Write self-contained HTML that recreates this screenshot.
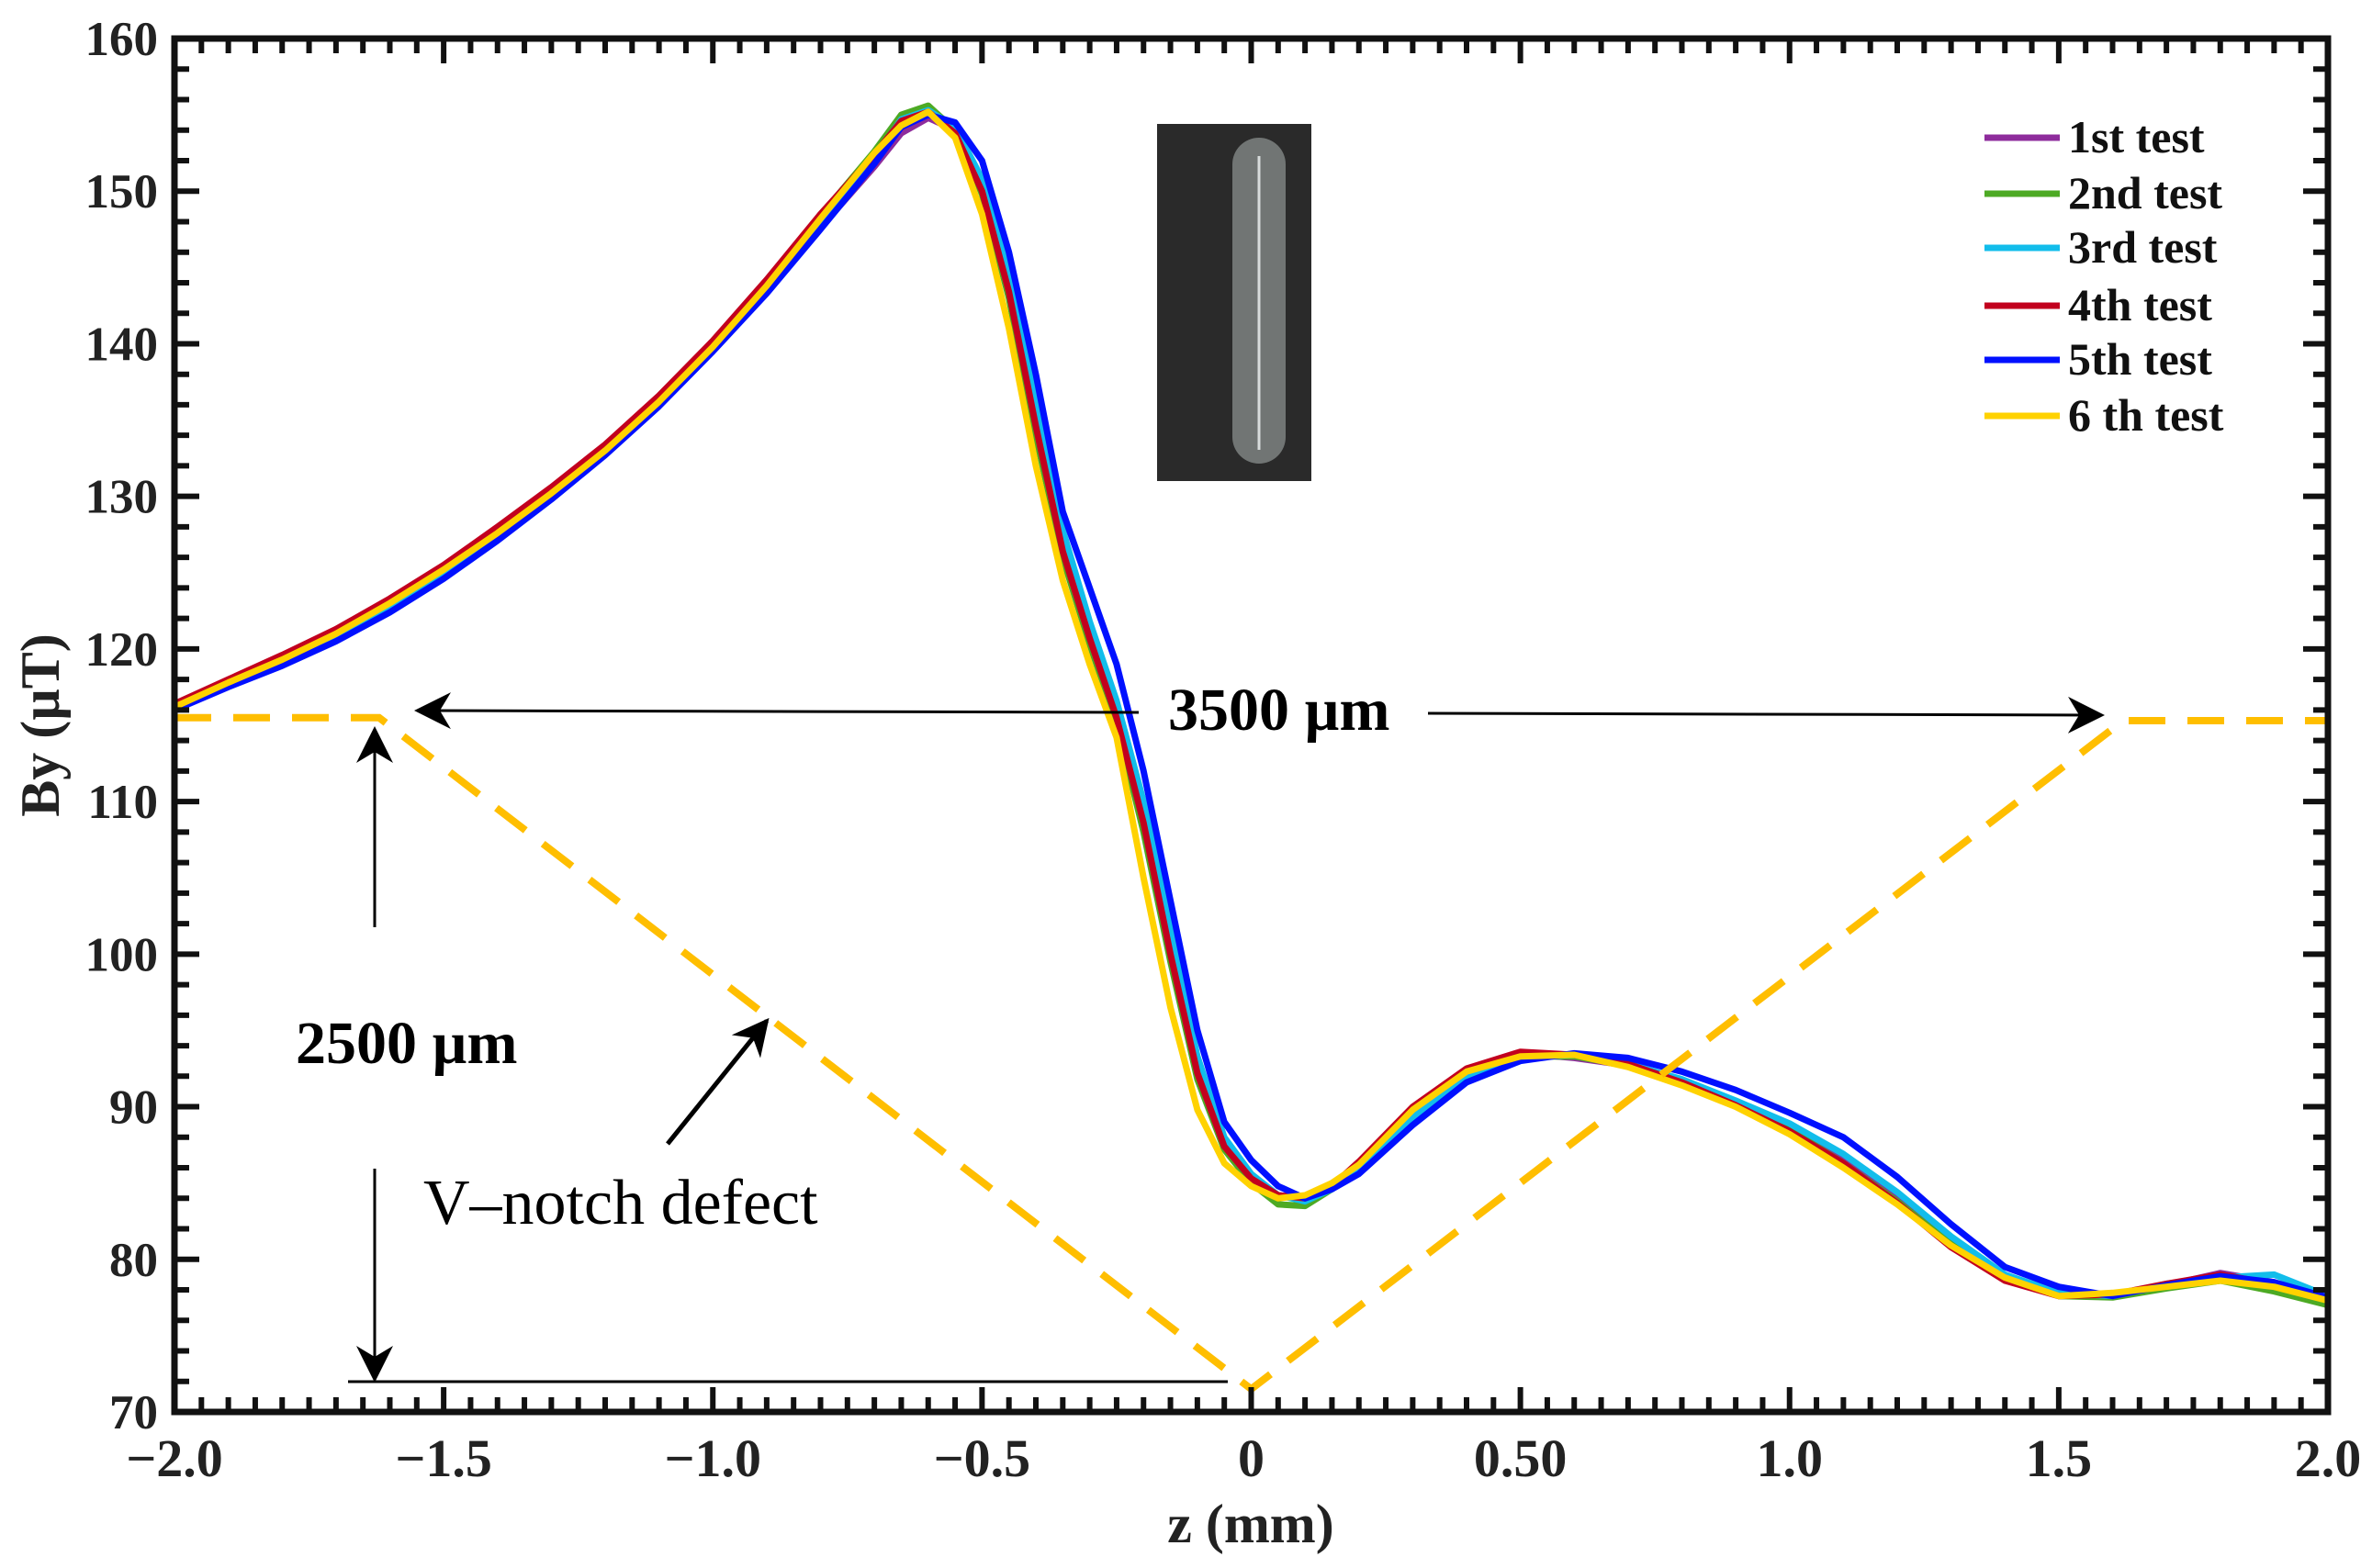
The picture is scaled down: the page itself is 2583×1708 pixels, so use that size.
<!DOCTYPE html>
<html><head><meta charset="utf-8">
<style>
html,body{margin:0;padding:0;background:#fff;}
svg{display:block;}
text{font-family:"Liberation Serif",serif;}
</style></head>
<body>
<svg id="chart" width="2583" height="1708" viewBox="0 0 2583 1708" xmlns="http://www.w3.org/2000/svg">
<defs>
<marker id="ahb" viewBox="0 0 20 20" refX="18" refY="10" markerWidth="40" markerHeight="40" markerUnits="userSpaceOnUse" orient="auto">
<path d="M0,0 L20,10 L0,20 L6,10 Z" fill="#000"/>
</marker>
</defs>
<g id="series"></g>
<g id="defect"></g>
<g id="axes"></g>
<g id="annot">
  <rect x="1260" y="135" width="168" height="389" fill="#2a2a2a"/>
  <rect x="1342" y="150" width="58" height="355" rx="29" fill="#8a8f8e" opacity="0.75"/>
  <line x1="1371" y1="170" x2="1371" y2="490" stroke="#d8dcdc" stroke-width="3"/>
  <line x1="1240" y1="776" x2="455" y2="774" stroke="#000" stroke-width="3" marker-end="url(#ahb)"/>
  <line x1="1555" y1="777" x2="2288" y2="779" stroke="#000" stroke-width="3" marker-end="url(#ahb)"/>
  <text x="1272" y="795" font-size="66" font-weight="bold">3500 µm</text>
  <line x1="408" y1="1010" x2="408" y2="795" stroke="#000" stroke-width="3" marker-end="url(#ahb)"/>
  <line x1="408" y1="1273" x2="408" y2="1502" stroke="#000" stroke-width="3" marker-end="url(#ahb)"/>
  <line x1="379" y1="1505" x2="1337" y2="1505" stroke="#000" stroke-width="3"/>
  <text x="322" y="1158" font-size="66" font-weight="bold">2500 µm</text>
  <line x1="727" y1="1246" x2="835" y2="1112" stroke="#000" stroke-width="5" marker-end="url(#ahb)"/>
  <text x="461" y="1333" font-size="70">V–notch defect</text>
</g>
<g id="legend"></g>
</svg>
<script>
const zVals=[-2,-1.9,-1.8,-1.7,-1.6,-1.5,-1.4,-1.3,-1.2,-1.1,-1.0,-0.9,-0.8,-0.7,-0.65,-0.6,-0.55,-0.5,-0.45,-0.4,-0.35,-0.3,-0.25,-0.2,-0.15,-0.1,-0.05,0,0.05,0.1,0.15,0.2,0.3,0.4,0.5,0.6,0.7,0.8,0.9,1.0,1.1,1.2,1.3,1.4,1.5,1.6,1.7,1.8,1.9,2.0];
const test1=[116.0,117.6,119.0,120.6,122.6,124.8,127.3,130.0,132.8,136.0,139.6,143.4,147.6,151.6,153.8,154.8,154.0,150.5,144.2,135.5,127.0,121.2,116.0,109.0,100.5,92.5,87.5,85.4,84.2,84.0,84.8,86.0,89.6,92.2,93.5,93.2,92.7,91.6,90.2,88.6,86.5,84.0,81.2,78.8,77.7,77.6,78.3,79.1,78.5,77.3];
const test2=[116.2,117.9,119.4,121.0,123.0,125.3,127.8,130.3,133.3,136.5,140.0,144.0,148.4,152.6,155.0,155.6,154.0,149.8,143.0,134.0,126.0,120.3,115.2,108.0,99.5,91.8,87.2,85.0,83.6,83.5,84.6,86.0,89.7,92.2,93.3,93.3,92.7,91.5,90.2,88.5,86.3,83.8,81.0,78.7,77.6,77.5,78.1,78.6,77.9,77.0];
const test3=[116.1,117.7,119.2,120.9,122.8,125.0,127.5,130.2,133.0,136.2,139.8,143.6,148.0,152.2,154.7,155.3,154.2,150.8,144.8,136.5,127.8,121.8,116.6,110.0,101.5,93.3,88.0,85.6,84.2,83.8,84.6,85.8,89.3,92.0,93.2,93.4,92.8,91.8,90.4,88.9,86.9,84.4,81.5,79.0,77.8,77.6,78.4,78.8,79.0,77.6];
const test4=[116.4,118.0,119.6,121.3,123.3,125.5,128.0,130.6,133.4,136.6,140.2,144.2,148.5,152.4,154.6,155.2,153.8,150.0,143.4,134.6,126.4,120.7,115.5,108.6,100.0,92.2,87.4,85.3,84.2,84.0,84.8,86.4,90.0,92.5,93.6,93.4,92.8,91.6,90.1,88.4,86.3,83.7,80.8,78.6,77.6,77.7,78.4,79.0,78.4,77.3];
const test5=[116.0,117.5,118.9,120.5,122.4,124.6,127.1,129.8,132.7,135.9,139.5,143.3,147.5,151.8,154.2,155.0,154.5,152.0,146.0,138.0,129.0,124.0,119.0,112.0,103.5,95.0,89.0,86.5,84.8,84.0,84.6,85.6,88.8,91.6,93.0,93.5,93.2,92.3,91.1,89.6,88.0,85.4,82.3,79.5,78.2,77.6,78.3,78.9,78.5,77.5];
const test6=[116.2,117.8,119.3,121.0,123.0,125.2,127.6,130.2,133.0,136.2,139.8,143.8,148.2,152.5,154.3,155.2,153.5,148.5,141.0,132.0,124.5,119.0,114.2,105.0,96.5,89.8,86.3,84.8,84.0,84.2,85.0,86.2,89.8,92.3,93.3,93.4,92.6,91.4,90.0,88.2,86.0,83.6,80.9,78.8,77.6,77.8,78.2,78.6,78.2,77.3];
const seriesNames=["1st test","2nd test","3rd test","4th test","5th test","6 th test"];
const defectZ=[-2,-1.62,0,1.62,2];
const defectY=[115.5,115.5,71.5,115.3,115.3];
const xTicks=[-2.0,-1.5,-1.0,-0.5,0,0.5,1.0,1.5,2.0];
const xTickLabels=["\u22122.0","\u22121.5","\u22121.0","\u22120.5","0","0.50","1.0","1.5","2.0"];
const yTicks=[70,80,90,100,110,120,130,140,150,160];
const yTickLabels=["70","80","90","100","110","120","130","140","150","160"];

const NS="http://www.w3.org/2000/svg";
const L=190,R=2535,T=42,B=1538;
const X=z=>L+(z+2)/4*(R-L);
const Y=v=>B-(v-70)/90*(B-T);
const colors=["#8E2C9C","#4DAA24","#12BDEB","#C2001E","#0010FF","#FFD200"];
const allSeries=[test1,test2,test3,test4,test5,test6];
function mk(tag,attrs,parent){const e=document.createElementNS(NS,tag);for(const k in attrs)e.setAttribute(k,attrs[k]);parent.appendChild(e);return e;}

const sg=document.getElementById('series');
allSeries.forEach((ys,i)=>{
  const d=ys.map((v,j)=>(j?'L':'M')+X(zVals[j]).toFixed(1)+','+Y(v).toFixed(1)).join(' ');
  const p=mk('path',{d:d,fill:'none',stroke:colors[i],'stroke-width':7,'stroke-linejoin':'round'},sg);
  
  
});

const dg=document.getElementById('defect');
const dd=defectZ.map((z,j)=>(j?'L':'M')+X(z).toFixed(1)+','+Y(defectY[j]).toFixed(1)).join(' ');
const dp=mk('path',{d:dd,fill:'none',stroke:'#FFBE00','stroke-width':8,'stroke-dasharray':'40 24'},dg);



const ag=document.getElementById('axes');
const frame=mk('rect',{x:L,y:T,width:R-L,height:B-T,fill:'none',stroke:'#111','stroke-width':7},ag);


let tk='';
for(let k=0;k<=80;k++){const z=-2+k*0.05;const x=X(z);const len=(k%10===0)?27:16;tk+=`M${x},${B}V${B-len}M${x},${T}V${T+len}`;}
for(let k=0;k<=45;k++){const v=70+k*2;const y=Y(v);const len=(k%5===0)?27:16;tk+=`M${L},${y}H${L+len}M${R},${y}H${R-len}`;}
const tp=mk('path',{d:tk,stroke:'#111','stroke-width':6,fill:'none'},ag);


xTicks.forEach((z,i)=>{
  const t=mk('text',{x:X(z),y:1608,'font-size':58,'font-weight':'bold','text-anchor':'middle',fill:'#222'},ag);
  t.textContent=xTickLabels[i];
  
  
});
yTicks.forEach((v,i)=>{
  const t=mk('text',{x:172,y:Y(v)+18,'font-size':53,'font-weight':'bold','text-anchor':'end',fill:'#222'},ag);
  t.textContent=yTickLabels[i];
  
  
});
const xt=mk('text',{x:1362,y:1680,'font-size':60,'font-weight':'bold','text-anchor':'middle',fill:'#222'},ag);
xt.textContent='z (mm)';


const yt=mk('text',{x:0,y:0,'font-size':60,'font-weight':'bold','text-anchor':'middle',fill:'#222',transform:'translate(64,790) rotate(-90)'},ag);
yt.textContent='By (µT)';



const lg=document.getElementById('legend');
const legY=[150,211,270,333,392,453];
seriesNames.forEach((n,i)=>{
  const ln=mk('line',{x1:2161,x2:2243,y1:legY[i],y2:legY[i],stroke:colors[i],'stroke-width':7},lg);
  
  
  const t=mk('text',{x:2252,y:legY[i]+16,'font-size':50,'font-weight':'bold',fill:'#111'},lg);
  t.textContent=n;
  
  
});
</script>
</body></html>
